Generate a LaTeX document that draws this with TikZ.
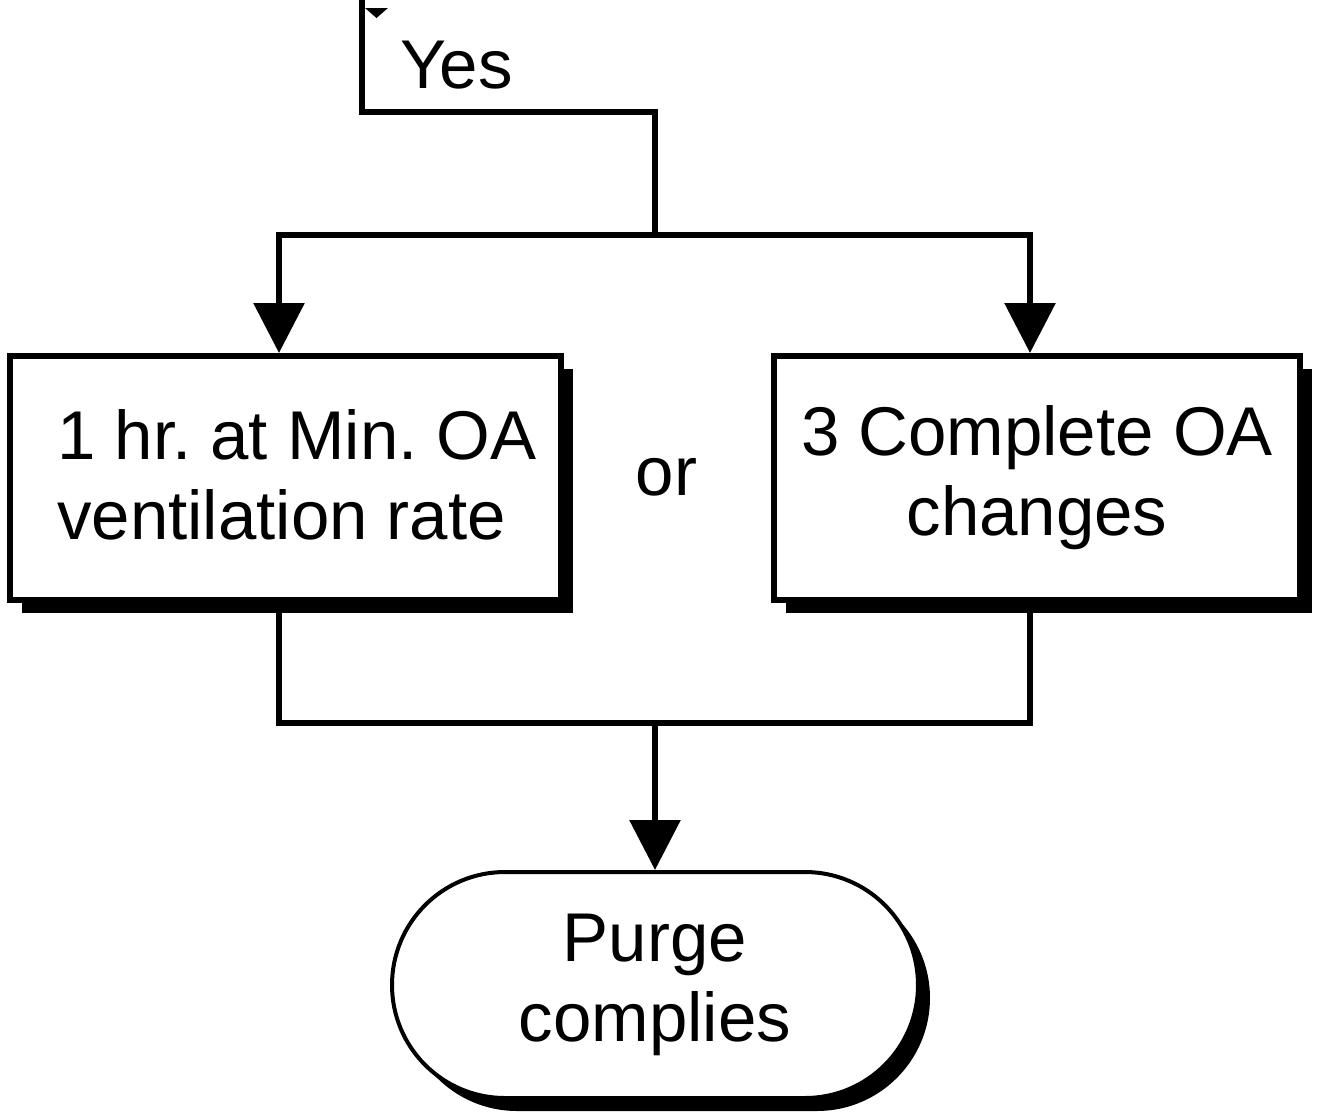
\documentclass[tikz,border=0pt]{standalone}
\usepackage{fontspec}
\setmainfont{Liberation Sans}
\usetikzlibrary{arrows.meta,shapes.misc,shadows}
\begin{document}
\frenchspacing
\begin{tikzpicture}[x=1pt,y=-1pt,
  conn/.style={line width=6pt},
  arr/.style={conn,-{Triangle[length=50pt,width=50pt]}},
  bigfont/.style={font=\fontsize{69}{80}\selectfont\frenchspacing},
  shad/.style={drop shadow={shadow xshift=12pt,shadow yshift=-13pt,opacity=1,fill=black}},
  procbox/.style={draw,line width=6pt,fill=white,minimum width=551pt,minimum height=244pt,inner sep=0pt,shad,bigfont,align=center},
  term/.style={draw,rounded rectangle,line width=4pt,fill=white,minimum width=526pt,minimum height=226pt,inner sep=0pt,shad,bigfont,align=center},
  lbl/.style={bigfont,inner sep=0pt}
]
\path[use as bounding box] (0,0) rectangle (1317,1117);
% coordinates
\coordinate (top) at (362,0);
\coordinate (bend) at (655,112);
\coordinate (split) at (655,235);
\coordinate (lsplit) at (279,235);
\coordinate (rsplit) at (1030,235);
\coordinate (join) at (655,723);
\coordinate (ljoin) at (279,723);
\coordinate (rjoin) at (1030,723);
% nodes
\node[procbox] (L) at (285.5,478) {};
\node[lbl, align=left, anchor=west] (Lt) at (57,475) {1 hr. at Min. OA\\ventilation rate};
\node[procbox, minimum width=526pt] (R) at (1037,478) {3 Complete OA\\changes};
\node[term] (T) at (655,985) {Purge\\complies};
\node[lbl, anchor=base west] (yes) at (400,88) {Yes};
\node[lbl, anchor=base] (or) at (666.5,495) {or};
% top wedge (cut off)
\fill (365,8) -- (388,8) -- (376.5,18) -- cycle;
% connectors
\draw[conn] (top) |- (bend) -- (split);
\draw[arr] (split) -- (lsplit) -- (lsplit |- L.north);
\draw[arr] (split) -- (rsplit) -- (rsplit |- R.north);
\draw[conn] (ljoin |- L.south) -- (ljoin) -- (rjoin) -- (rjoin |- R.south);
\draw[arr] (join) -- (join |- T.north);
\end{tikzpicture}
\end{document}
